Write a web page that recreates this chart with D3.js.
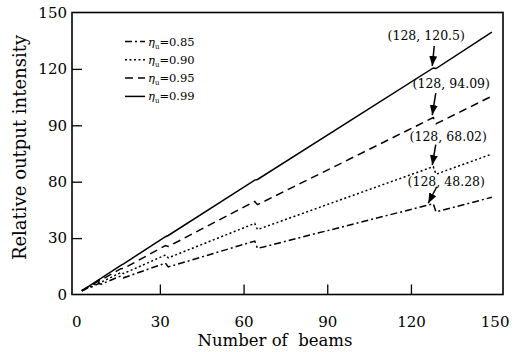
<!DOCTYPE html>
<html>
<head>
<meta charset="utf-8">
<script src="https://cdn.jsdelivr.net/npm/d3@7"></script>
<style>
body { margin: 0; background: #fff; }
text { font-family: "DejaVu Serif", serif; fill: #000; }
</style>
</head>
<body>
<div id="chart"></div>
<script>
// Values
var beams = [2, 3, 4, 5, 8, 9, 16, 17, 32, 33, 64, 65, 128, 129, 149];
var eta099 = [2, 2.97, 3.96, 4.90, 7.84, 8.73, 15.52, 16.33, 30.74, 31.38, 60.86, 61.20, 120.5, 120.2, 139.5];
var eta095 = [2, 2.85, 3.80, 4.51, 7.22, 7.72, 13.72, 13.85, 26.06, 25.53, 49.52, 47.78, 94.09, 90.8, 105.5];
var eta090 = [2, 2.70, 3.60, 4.05, 6.48, 6.56, 11.66, 11.15, 21.00, 19.49, 37.79, 34.54, 68.02, 64.0, 74.7];
var eta085 = [2, 2.55, 3.40, 3.61, 5.78, 5.53, 9.83, 8.87, 16.70, 14.64, 28.40, 24.51, 48.28, 44.0, 51.7];

var legendNames = ["0.85", "0.90", "0.95", "0.99"];

var xTickValues = [0, 30, 60, 90, 120, 150];
var xTickLabels = ["0", "30", "60", "90", "120", "150"];
var yTickValues = [0, 30, 60, 90, 120, 150];
var yTickLabels = ["0", "30", "80", "90", "120", "150"];   // as printed in the figure

var annBeams = [128, 128, 128, 128];
var annValues = [120.5, 94.09, 68.02, 48.28];
var annTexts = ["(128, 120.5)", "(128, 94.09)", "(128, 68.02)", "(128, 48.28)"];

// Layout
var W = 514, H = 352,
    margin = { top: 12.5, right: 11, bottom: 57.5, left: 72 },
    width = W - margin.left - margin.right,
    height = H - margin.top - margin.bottom;

var series = [
    { name: "0.85", values: eta085, dash: "7,3,2,3" },
    { name: "0.90", values: eta090, dash: "2,2.5" },
    { name: "0.95", values: eta095, dash: "8,5" },
    { name: "0.99", values: eta099, dash: null }
];

// offsets of label and arrow from the annotated point (px)
var annLayout = [
    { tx: -7, ty: -31, x1: 1, y1: -22, x2: -1, y2: -2 },
    { tx: 18, ty: -33, x1: 2.5, y1: -24.5, x2: -1, y2: -2.5 },
    { tx: 15, ty: -29.5, x1: 2.5, y1: -22, x2: -1, y2: -1.5 },
    { tx: 13, ty: -21, x1: 3.5, y1: -17, x2: -5, y2: -0.5 }
];

var xScale = d3.scaleLinear().domain([-1.5, 153]).range([0, width]);
var yScale = d3.scaleLinear().domain([0, 150]).range([height, 0]);

var svg = d3.select("#chart").append("svg")
    .attr("width", W)
    .attr("height", H);

svg.append("defs").append("marker")
    .attr("id", "arrow")
    .attr("markerUnits", "userSpaceOnUse")
    .attr("markerWidth", 10)
    .attr("markerHeight", 8)
    .attr("refX", 10)
    .attr("refY", 4)
    .attr("orient", "auto")
    .append("path")
    .attr("d", "M0,0 L10,4 L0,8 Z")
    .attr("fill", "#000");

var g = svg.append("g")
    .attr("transform", "translate(" + margin.left + "," + margin.top + ")");

// inward ticks
var xTicks = g.append("g")
    .attr("transform", "translate(0," + height + ")")
    .call(d3.axisBottom(xScale).tickValues([30, 60, 90, 120]).tickSizeInner(-10).tickSizeOuter(0).tickFormat(""));
var yTicks = g.append("g")
    .call(d3.axisLeft(yScale).tickValues([30, 60, 90, 120]).tickSizeInner(-10).tickSizeOuter(0).tickFormat(""));
xTicks.select(".domain").remove();
yTicks.select(".domain").remove();
g.selectAll(".tick line").attr("stroke", "#000").attr("stroke-width", 1.3);

// tick labels
var xLab = g.append("g")
    .attr("transform", "translate(0," + height + ")")
    .call(d3.axisBottom(xScale).tickValues(xTickValues).tickSize(0)
        .tickFormat(function (d, i) { return xTickLabels[i]; }));
var yLab = g.append("g")
    .call(d3.axisLeft(yScale).tickValues(yTickValues).tickSize(0).tickPadding(5)
        .tickFormat(function (d, i) { return yTickLabels[i]; }));
xLab.select(".domain").remove();
yLab.select(".domain").remove();
g.selectAll(".tick text")
    .attr("font-family", "DejaVu Serif")
    .attr("font-size", 15)
    .attr("fill", "#000");
xLab.selectAll(".tick text").attr("dy", null).attr("y", 28).attr("dominant-baseline", "middle");

// frame
g.append("rect")
    .attr("width", width)
    .attr("height", height)
    .attr("fill", "none")
    .attr("stroke", "#000")
    .attr("stroke-width", 1.6);

// curves
var line = d3.line()
    .x(function (d) { return xScale(d[0]); })
    .y(function (d) { return yScale(d[1]); });

g.selectAll(".curve")
    .data(series)
    .enter().append("path")
    .attr("class", "curve")
    .attr("d", function (s) { return line(d3.zip(beams, s.values)); })
    .attr("fill", "none")
    .attr("stroke", "#000")
    .attr("stroke-width", 1.5)
    .attr("stroke-dasharray", function (s) { return s.dash; });

// annotations
annTexts.forEach(function (t, i) {
    var px = xScale(annBeams[i]), py = yScale(annValues[i]), o = annLayout[i];
    g.append("text")
        .attr("x", px + o.tx)
        .attr("y", py + o.ty)
        .attr("text-anchor", "middle")
        .attr("dominant-baseline", "middle")
        .attr("font-size", 12.5)
        .text(t);
    g.append("line")
        .attr("x1", px + o.x1).attr("y1", py + o.y1)
        .attr("x2", px + o.x2).attr("y2", py + o.y2)
        .attr("stroke", "#000")
        .attr("stroke-width", 1.5)
        .attr("marker-end", "url(#arrow)");
});

// legend
var legend = g.append("g").attr("transform", "translate(53,29)");
series.forEach(function (s, i) {
    var row = legend.append("g").attr("transform", "translate(0," + (i * 18.3) + ")");
    row.append("line")
        .attr("x1", 0).attr("x2", 20)
        .attr("stroke", "#000")
        .attr("stroke-width", 1.5)
        .attr("stroke-dasharray", s.dash);
    var t = row.append("text")
        .attr("x", 23)
        .attr("y", 4)
        .attr("font-size", 11.5);
    t.append("tspan").attr("font-style", "italic").text("η");
    t.append("tspan").attr("font-size", 7).attr("dy", 3).text("u");
    t.append("tspan").attr("dy", -3).text("=" + legendNames[i]);
});

// axis titles
svg.append("text")
    .attr("x", 275)
    .attr("y", 346)
    .attr("text-anchor", "middle")
    .attr("font-size", 16.5)
    .text("Number of\u00a0 beams");

svg.append("text")
    .attr("transform", "translate(26,147.5) rotate(-90)")
    .attr("text-anchor", "middle")
    .attr("font-size", 18)
    .text("Relative output intensity");
</script>
</body>
</html>
